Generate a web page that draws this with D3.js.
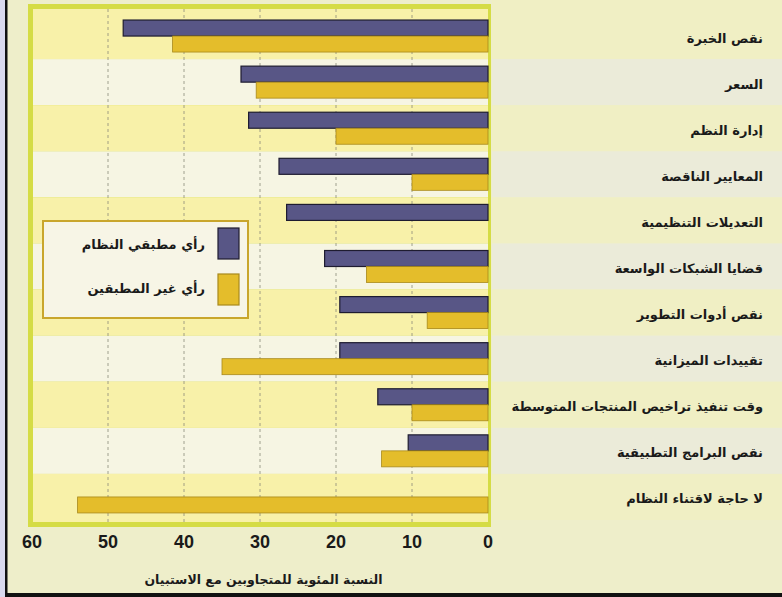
<!DOCTYPE html>
<html>
<head>
<meta charset="utf-8">
<script src="https://cdn.jsdelivr.net/npm/d3@7"></script>
<style>
  body { margin: 0; background: #eeeeca; }
  svg { display: block; }
  text { font-family: "DejaVu Sans", sans-serif; font-weight: bold; fill: #1a1a1a; }
  .tick-label { font-family: "Liberation Sans", Arial, sans-serif; }
</style>
</head>
<body>
<script>
// reasons, top to bottom
var categories = ["نقص الخبرة", "السعر", "إدارة النظم", "المعايير الناقصة", "التعديلات التنظيمية",
  "قضايا الشبكات الواسعة", "نقص أدوات التطوير", "تقييدات الميزانية",
  "وقت تنفيذ تراخيص المنتجات المتوسطة", "نقص البرامج التطبيقية", "لا حاجة لاقتناء النظام"];
var users    = [48, 32.5, 31.5, 27.5, 26.5, 21.5, 19.5, 19.5, 14.5, 10.5, 0];   // رأي مطبقي النظام
var nonUsers = [41.5, 30.5, 20, 10, 0, 16, 8, 35, 10, 14, 54];                   // رأي غير المطبقين
var seriesNames = ["رأي مطبقي النظام", "رأي غير المطبقين"];
var ticks = [60, 50, 40, 30, 20, 10, 0];
var axisTitle = "النسبة المئوية للمتجاوبين مع الاستبيان";

var width = 782, height = 597;
var plot = {left: 33, right: 488, top: 9, bottom: 522};

var x = d3.scaleLinear().domain([0, 60]).range([488, 32]);
var y = d3.scaleBand().domain(d3.range(categories.length)).range([13, 520]);
var sub = d3.scaleBand().domain([0, 1]).range([0, 32]);
var fills = ["#585686", "#e4bd2b"],
    strokes = ["#1e1c30", "#a8891c"];

var svg = d3.select("body").append("svg")
    .attr("width", width)
    .attr("height", height);

// page edges
svg.append("rect").attr("x", 0).attr("y", 0).attr("width", 5).attr("height", height).attr("fill", "#d9d9ee");
svg.append("rect").attr("x", 5).attr("y", 0).attr("width", 2.5).attr("height", height).attr("fill", "#111");
svg.append("rect").attr("x", 5).attr("y", 593).attr("width", width).attr("height", 4).attr("fill", "#111");

// stripes behind the labels on the right
svg.selectAll(".lstripe")
    .data(categories)
  .enter().append("rect")
    .attr("class", "lstripe")
    .attr("x", plot.right + 4)
    .attr("width", width - plot.right - 4)
    .attr("y", function(d, i) { return i == 0 ? 0 : y(i); })
    .attr("height", function(d, i) { return i == 0 ? y(i) + y.bandwidth() : y.bandwidth(); })
    .attr("fill", function(d, i) { return i % 2 == 0 ? "#f0efc4" : "#ebebd9"; });

// frame
svg.append("rect")
    .attr("x", 28).attr("y", 4)
    .attr("width", 491 - 28).attr("height", 527 - 4)
    .attr("fill", "#d5dc45");

// stripes inside the plot
svg.selectAll(".stripe")
    .data(categories)
  .enter().append("rect")
    .attr("class", "stripe")
    .attr("x", plot.left)
    .attr("width", plot.right - plot.left)
    .attr("y", function(d, i) { return i == 0 ? plot.top : y(i); })
    .attr("height", function(d, i) {
      var top = i == 0 ? plot.top : y(i);
      var bot = i == categories.length - 1 ? plot.bottom : y(i) + y.bandwidth();
      return bot - top;
    })
    .attr("fill", function(d, i) { return i % 2 == 0 ? "#f8f1a9" : "#f6f5e3"; });

// grid
svg.selectAll(".grid")
    .data(ticks.filter(function(t) { return t > 0 && t < 60; }))
  .enter().append("line")
    .attr("class", "grid")
    .attr("x1", x).attr("x2", x)
    .attr("y1", plot.top).attr("y2", plot.bottom)
    .attr("stroke", "#8a8a7a")
    .attr("stroke-width", 0.8)
    .attr("stroke-dasharray", "3,3");

// bars
var rows = svg.selectAll(".row")
    .data(categories)
  .enter().append("g")
    .attr("class", "row")
    .attr("transform", function(d, i) { return "translate(0," + (y(i) + y.bandwidth() / 2 - 16) + ")"; });

rows.each(function(d, i) {
  var vals = [users[i], nonUsers[i]];
  d3.select(this).selectAll("rect")
      .data(vals.map(function(v, k) { return {v: v, k: k}; }).filter(function(e) { return e.v > 0; }))
    .enter().append("rect")
      .attr("x", function(e) { return x(e.v); })
      .attr("y", function(e) { return sub(e.k); })
      .attr("width", function(e) { return x(0) - x(e.v); })
      .attr("height", sub.bandwidth())
      .attr("fill", function(e) { return fills[e.k]; })
      .attr("stroke", function(e) { return strokes[e.k]; })
      .attr("stroke-width", function(e) { return e.k == 0 ? 1.2 : 0.8; });
});

// category labels
svg.selectAll(".cat")
    .data(categories)
  .enter().append("text")
    .attr("class", "cat")
    .attr("x", 763)
    .attr("y", function(d, i) { return y(i) + y.bandwidth() / 2 + 2; })
    .attr("dominant-baseline", "central")
    .attr("text-anchor", "end")
    .style("font-size", "13px")
    .text(function(d) { return d; });

// x axis labels
svg.selectAll(".tick-label")
    .data(ticks)
  .enter().append("text")
    .attr("class", "tick-label")
    .attr("x", function(t) { return x(t); })
    .attr("y", 548)
    .attr("text-anchor", "middle")
    .style("font-size", "18px")
    .text(function(t) { return t; });

svg.append("text")
    .attr("x", (plot.left + plot.right) / 2 + 3)
    .attr("y", 584)
    .attr("text-anchor", "middle")
    .style("font-size", "12.5px")
    .text(axisTitle);

// legend
var legend = svg.append("g");
legend.append("rect")
    .attr("x", 43).attr("y", 221)
    .attr("width", 205).attr("height", 97)
    .attr("fill", "#f7f5e6")
    .attr("stroke", "#c9a62c")
    .attr("stroke-width", 2);

seriesNames.forEach(function(name, k) {
  legend.append("rect")
      .attr("x", 218).attr("y", 228 + k * 46)
      .attr("width", 21).attr("height", 31)
      .attr("fill", fills[k])
      .attr("stroke", strokes[k])
      .attr("stroke-width", 1.2);
  legend.append("text")
      .attr("x", 205).attr("y", 244 + k * 44)
      .attr("dominant-baseline", "central")
      .attr("text-anchor", "end")
      .style("font-size", "13px")
      .text(name);
});
</script>
</body>
</html>
